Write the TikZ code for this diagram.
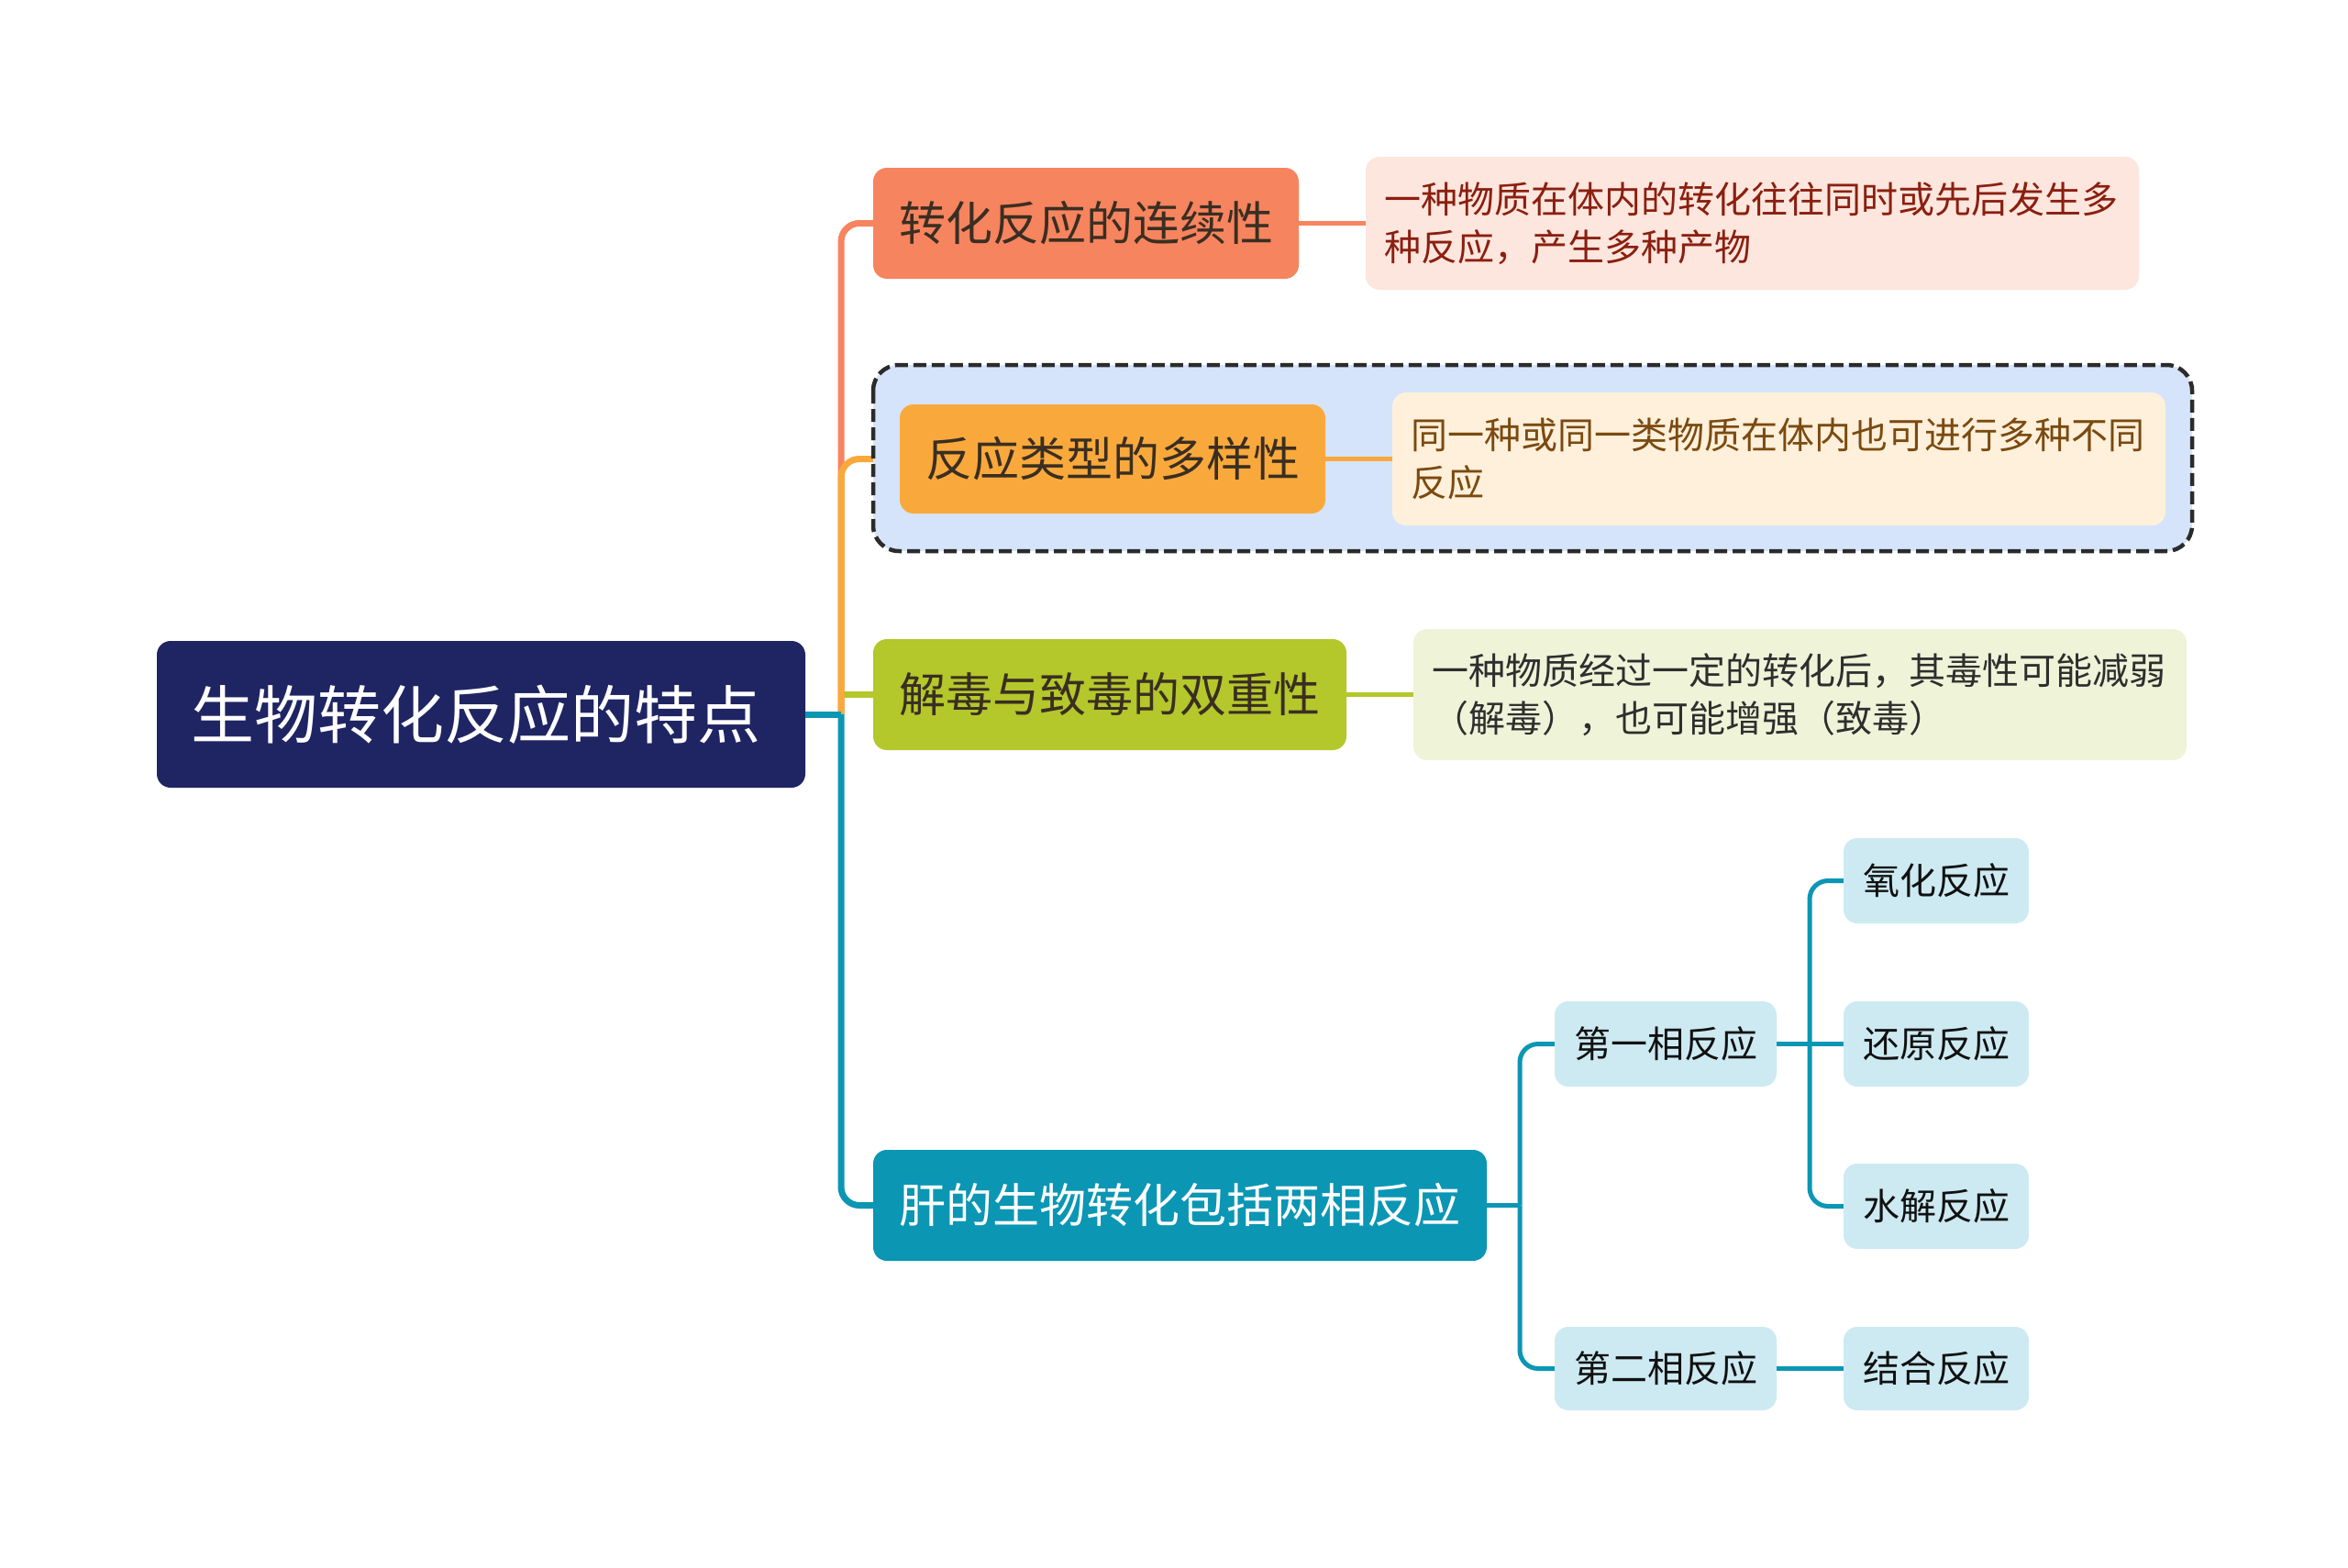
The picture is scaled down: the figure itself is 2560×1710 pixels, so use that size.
\documentclass[tikz,border=0pt]{standalone}
\usepackage{fontspec}
\setmainfont{Noto Sans CJK SC}
\definecolor{cRoot}{HTML}{1F2563}
\definecolor{cOne}{HTML}{F6845E}
\definecolor{cTwo}{HTML}{F9A93B}
\definecolor{cThree}{HTML}{B4C72B}
\definecolor{cFour}{HTML}{0B96B4}
\definecolor{cBT}{HTML}{3A2E22}
\definecolor{dOneF}{HTML}{FDE6DD}
\definecolor{dOneT}{HTML}{8B1F10}
\definecolor{dTwoF}{HTML}{FEF0DA}
\definecolor{dTwoT}{HTML}{7B4A10}
\definecolor{dThreeF}{HTML}{EFF3D8}
\definecolor{dThreeT}{HTML}{2E2E2E}
\definecolor{cBoxF}{HTML}{D5E4FA}
\definecolor{cBoxD}{HTML}{2B2B2B}
\definecolor{cLeaf}{HTML}{CDEAF2}
\definecolor{cLeafT}{HTML}{111111}
\tikzset{
  box/.style={rounded corners=15pt, inner sep=0pt, align=center},
  rootbox/.style={box, fill=cRoot, text=white, font=\fontsize{69}{80}\selectfont},
  branch/.style={box, text=cBT, font=\fontsize{51}{60}\selectfont},
  detail/.style={box, inner xsep=20pt, text width=803pt, minimum width=843pt,
                 align=left, font=\fontsize{40}{52}\selectfont},
  leaf/.style={box, fill=cLeaf, text=cLeafT, font=\fontsize{40}{48}\selectfont},
  conn/.style={line width=7pt, rounded corners=20pt},
  subconn/.style={line width=5pt, draw=cFour, rounded corners=20pt},
  dconn/.style={line width=5.5pt},
}
\begin{document}
\begin{tikzpicture}[x=1pt,y=-1pt]
\fill[white] (0,0) rectangle (2560,1710);
\useasboundingbox (0,0) rectangle (2560,1710);

% root and branches
\node[rootbox, minimum width=707pt, minimum height=160pt] (root) at (524.5,779) {生物转化反应的特点\hspace*{12pt}};
\node[branch, fill=cOne, minimum width=464pt, minimum height=121pt] (b1) at (1184,243.5) {转化反应的连续性};
\node[branch, fill=cThree, minimum width=516pt, minimum height=121pt] (b3) at (1210,757.5) {解毒与致毒的双重性};
\node[branch, fill=cFour, text=white, minimum width=669pt, minimum height=121pt] (b4) at (1286.5,1314.5) {肝的生物转化包括两相反应};

\coordinate (j) at (917,779);

% main connectors
\draw[conn, cOne] (j) |- (b1.west);
\draw[line width=7pt, cThree] (j |- b3.west) -- (b3.west);
\draw[conn, cTwo] (j) |- (1000,500.5);
\draw[line width=7pt, cFour] (root.east) -- (j);
\draw[conn, cFour] (j) |- (b4.west);

% dashed frame with branch 2
\draw[cBoxD, fill=cBoxF, line width=4.5pt, dash pattern=on 14pt off 6pt, rounded corners=28pt]
  (952,398) rectangle (2390,601);
\node[branch, fill=cTwo, minimum width=464pt, minimum height=119pt] (b2) at (1213,500.5) {反应类型的多样性};

% detail boxes
\node[detail, fill=dOneF, text=dOneT, minimum height=145pt] (d1) at (1910.5,243.5)
  {一种物质在体内的转化往往同时或先后发生多\\种反应，产生多种产物};
\node[detail, fill=dTwoF, text=dTwoT, minimum height=145pt] (d2) at (1939.5,500.5)
  {同一种或同一类物质在体内也可进行多种不同\\反应};
\node[detail, fill=dThreeF, text=dThreeT, minimum height=143pt] (d3) at (1962.5,757.5)
  {一种物质经过一定的转化后，其毒性可能减弱\\（解毒），也可能增强（致毒）};

\draw[dconn, cOne] (b1.east) -- (d1.west);
\draw[dconn, cTwo] (b2.east) -- (d2.west);
\draw[dconn, cThree] (b3.east) -- (d3.west);

% phase nodes
\node[leaf, minimum width=242pt, minimum height=93pt] (p1) at (1816,1138.5) {第一相反应};
\node[leaf, minimum width=242pt, minimum height=91pt] (p2) at (1816,1492.5) {第二相反应};
\node[leaf, minimum width=202pt, minimum height=93pt] (l1) at (2111,960.5) {氧化反应};
\node[leaf, minimum width=202pt, minimum height=93pt] (l2) at (2111,1138.5) {还原反应};
\node[leaf, minimum width=202pt, minimum height=93pt] (l3) at (2111,1315.5) {水解反应};
\node[leaf, minimum width=202pt, minimum height=91pt] (l4) at (2111,1492.5) {结合反应};

\coordinate (k) at (1657,1314.5);
\coordinate (m) at (1973,1138.5);
\draw[subconn] (b4.east) -- (k);
\draw[subconn] (k) |- (p1.west);
\draw[subconn] (k) |- (p2.west);
\draw[subconn] (p1.east) -- (m);
\draw[subconn] (m) |- (l1.west);
\draw[subconn] (m) |- (l3.west);
\draw[subconn] (m) -- (l2.west);
\draw[subconn] (p2.east) -- (l4.west);
\end{tikzpicture}
\end{document}
